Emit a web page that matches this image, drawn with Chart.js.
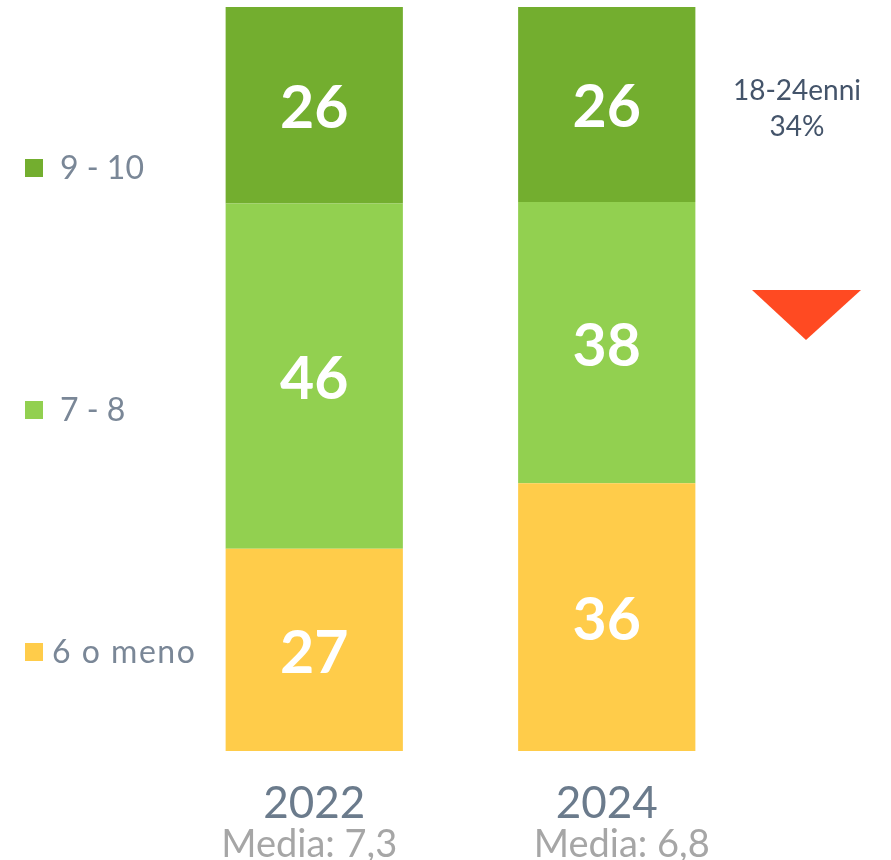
<!DOCTYPE html>
<html><head><meta charset="utf-8">
<script src="https://cdn.jsdelivr.net/npm/chart.js@4"></script>
<style>html,body{margin:0;padding:0;background:#fff}#wrap{width:891px;height:860px;position:relative}</style>
</head><body><div id="wrap"><canvas id="c" width="891" height="860"></canvas></div>
<script>
const categories = ['2022', '2024'];
const mediaLabels = ['Media: 7,3', 'Media: 6,8'];
const seriesNames = ['6 o meno', '7 - 8', '9 - 10'];
const lowValues = [27.2, 36.0];
const midValues = [46.4, 37.8];
const highValues = [26.4, 26.2];
const colors = ['#FFCC4A', '#92D050', '#73AE2F'];
const noteLines = ['18-24enni', '34%'];

const FONT = 'Lato, "Open Sans", sans-serif';

const overlay = {
  id: 'overlay',
  afterDatasetsDraw(chart) {
    const ctx = chart.ctx;
    ctx.save();
    // value labels
    chart.data.datasets.forEach((ds, di) => {
      const meta = chart.getDatasetMeta(di);
      meta.data.forEach((bar, i) => {
        const y = (bar.y + bar.base) / 2 + 4;
        ctx.fillStyle = '#FFFFFF';
        ctx.font = 'bold 59px ' + FONT;
        ctx.textAlign = 'center';
        ctx.textBaseline = 'middle';
        ctx.fillText(String(Math.round(ds.data[i])), bar.x, y);
      });
    });
    // category labels
    const xs = chart.scales.x;
    const mediaShift = [-5, 15];
    categories.forEach((c, i) => {
      const x = xs.getPixelForValue(i);
      ctx.textAlign = 'center';
      ctx.textBaseline = 'middle';
      ctx.fillStyle = '#6B7B8C';
      ctx.font = '44px ' + FONT;
      ctx.fillText(c, x, 804);
      ctx.fillStyle = '#A6A6A6';
      ctx.font = '38px ' + FONT;
      ctx.fillText(mediaLabels[i], x + mediaShift[i], 845);
    });
    // legend
    const legY = [652, 410, 168];
    const legTx = [52, 60, 60];
    seriesNames.forEach((n, i) => {
      ctx.fillStyle = colors[i];
      ctx.fillRect(25, legY[i] - 9, 18, 18);
      ctx.fillStyle = '#7A8797';
      ctx.font = '32px ' + FONT;
      ctx.textAlign = 'left';
      ctx.textBaseline = 'middle';
      if (i === 0) ctx.letterSpacing = '1.5px';
      ctx.fillText(n, legTx[i], legY[i] + 1);
      ctx.letterSpacing = '0px';
    });
    // note
    ctx.fillStyle = '#44546A';
    ctx.font = '28px ' + FONT;
    ctx.textAlign = 'center';
    ctx.fillText(noteLines[0], 797, 91);
    ctx.fillText(noteLines[1], 797, 127);
    // triangle
    ctx.fillStyle = '#FF4A22';
    ctx.beginPath();
    ctx.moveTo(752, 290);
    ctx.lineTo(861, 290);
    ctx.lineTo(806, 340);
    ctx.closePath();
    ctx.fill();
    ctx.restore();
  }
};

new Chart(document.getElementById('c'), {
  type: 'bar',
  data: {
    labels: categories,
    datasets: [
      { label: seriesNames[0], data: lowValues, backgroundColor: colors[0] },
      { label: seriesNames[1], data: midValues, backgroundColor: colors[1] },
      { label: seriesNames[2], data: highValues, backgroundColor: colors[2] }
    ]
  },
  options: {
    responsive: false,
    animation: false,
    devicePixelRatio: 1,
    layout: { padding: { left: 168, right: 138, top: 7, bottom: 109 } },
    datasets: { bar: { categoryPercentage: 1, barPercentage: 0.606, borderWidth: 0 } },
    scales: {
      x: { stacked: true, display: false },
      y: { stacked: true, display: false, min: 0, max: 100 }
    },
    plugins: { legend: { display: false }, tooltip: { enabled: false } }
  },
  plugins: [overlay]
});
</script></body></html>
